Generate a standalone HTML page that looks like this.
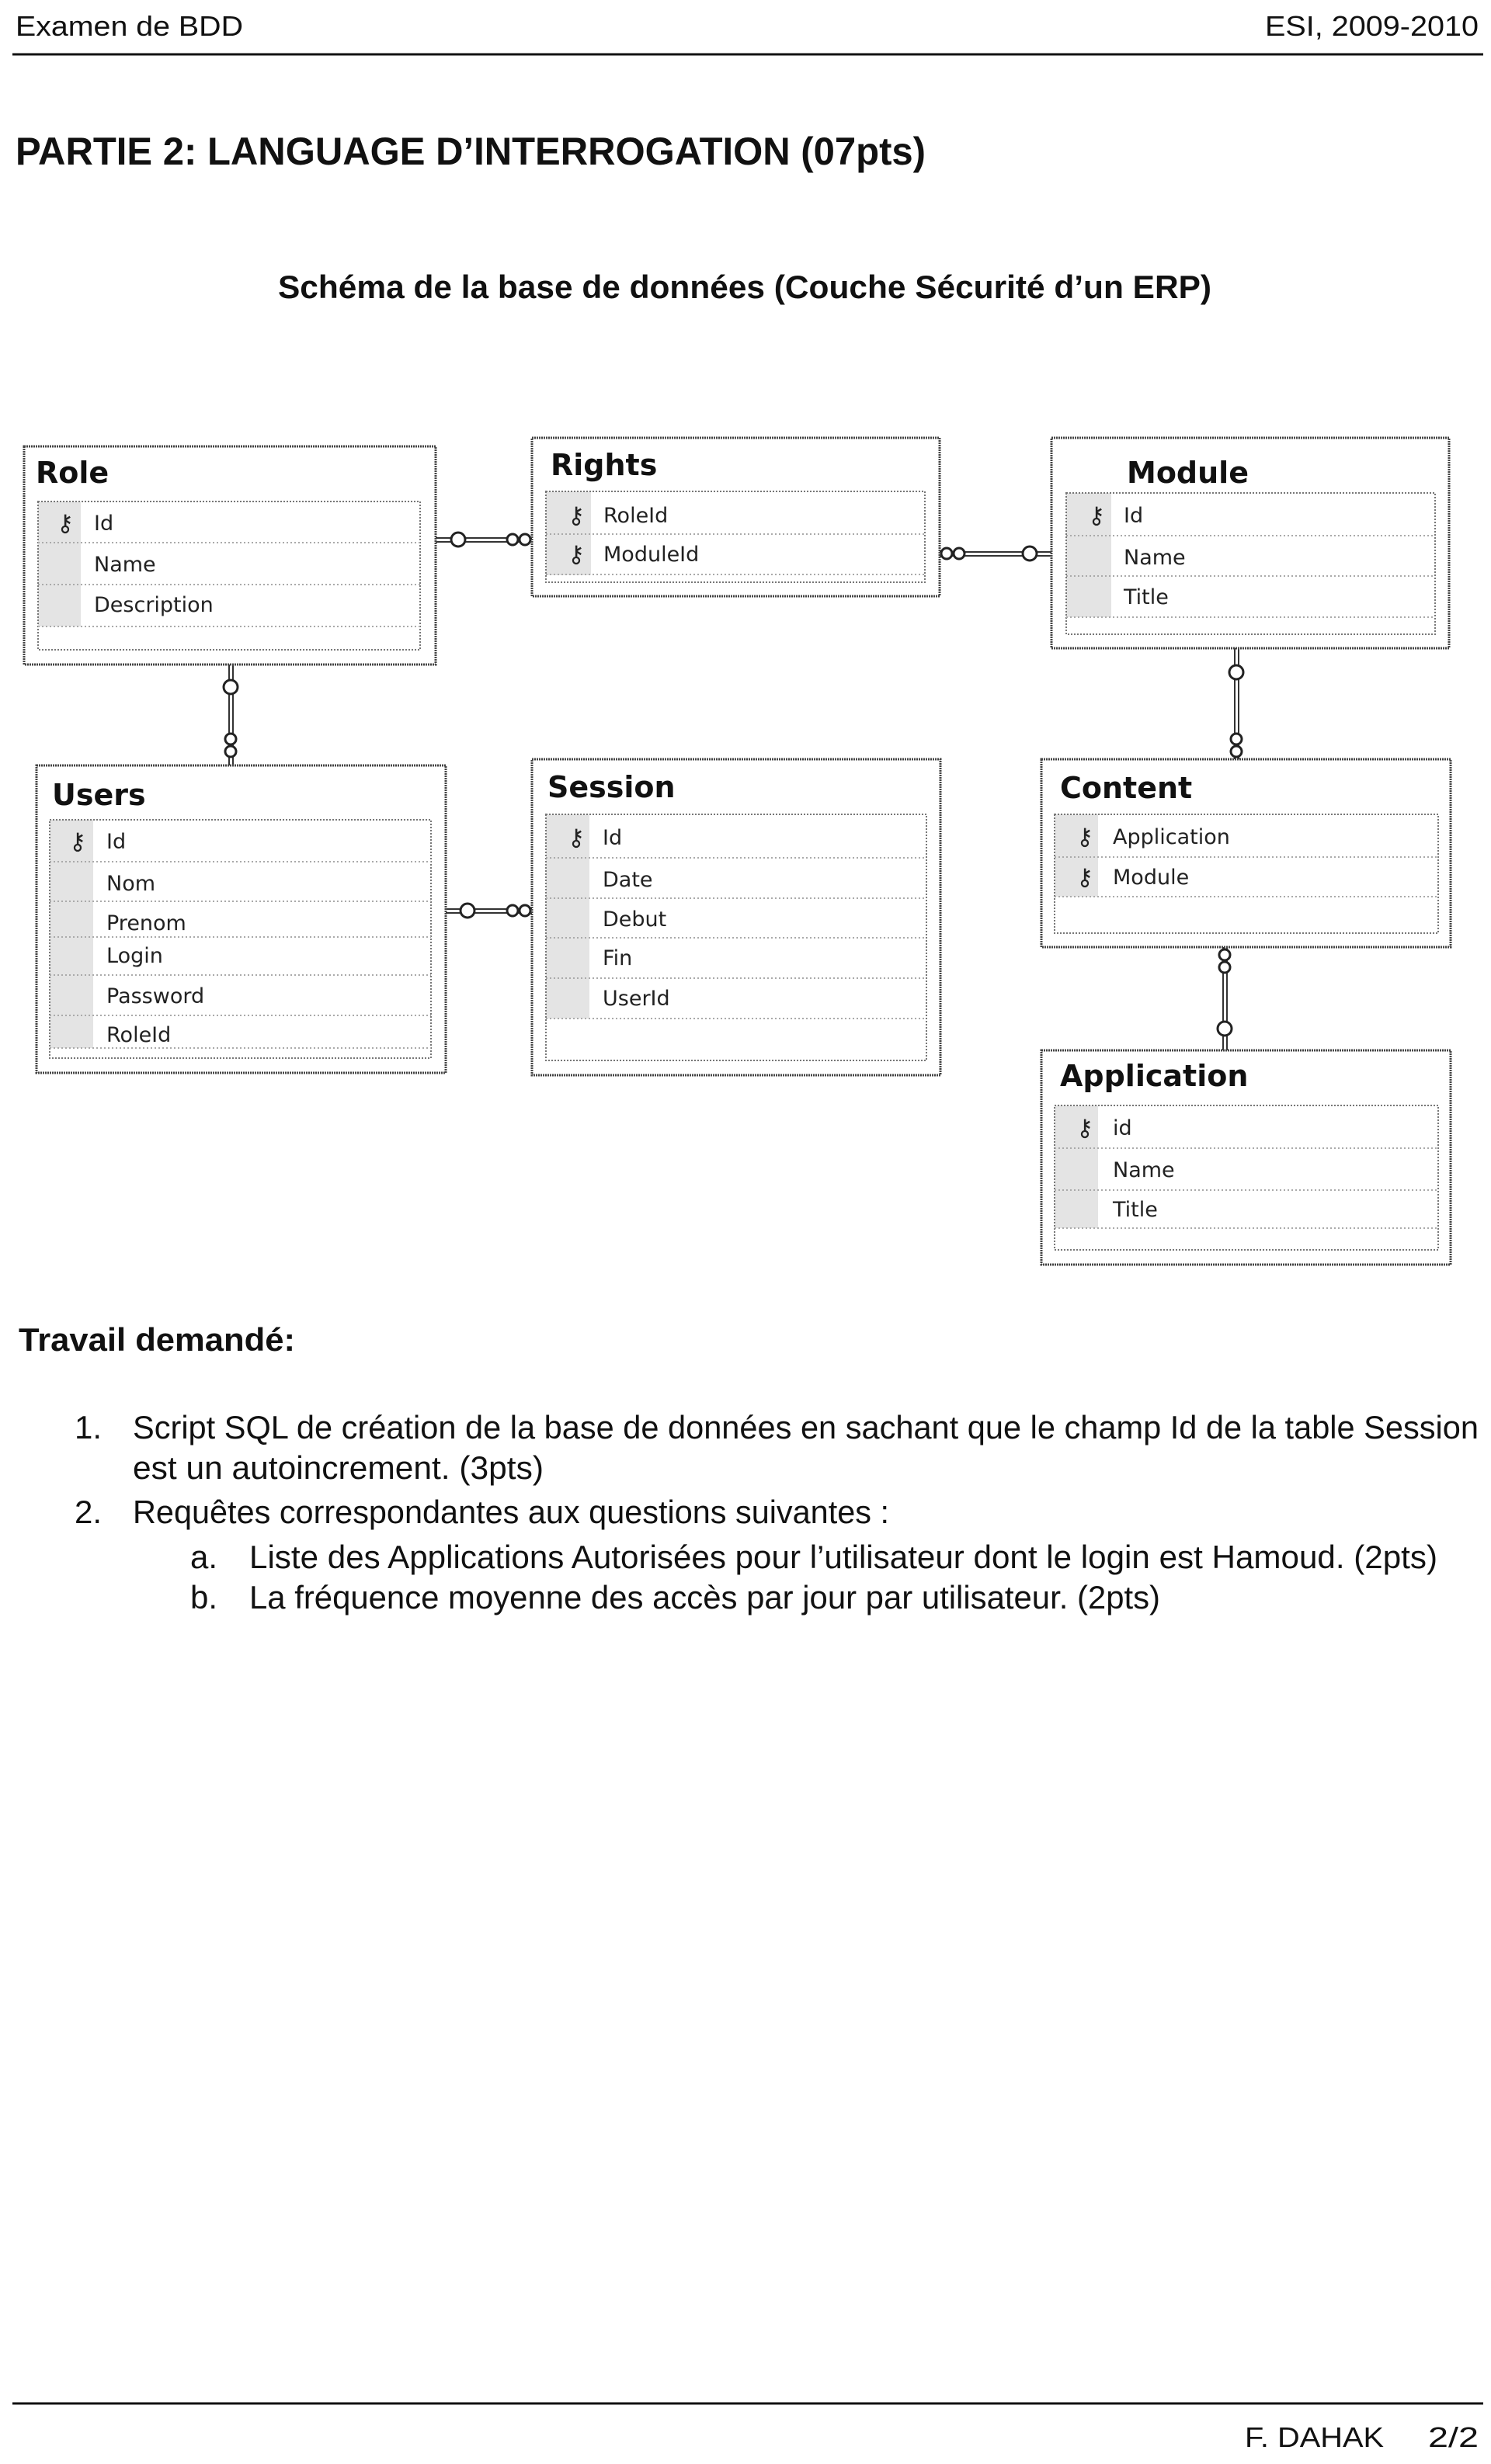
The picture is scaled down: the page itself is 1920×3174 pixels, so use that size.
<!DOCTYPE html>
<html><head><meta charset="utf-8"><style>
html,body{margin:0;padding:0;background:#fff;}
svg{display:block}
.b{font-family:"Liberation Sans",sans-serif;fill:#111}
.t{font-family:"DejaVu Sans",sans-serif;font-weight:bold;font-size:38px;fill:#111}
.r{font-family:"DejaVu Sans",sans-serif;font-size:27px;fill:#222}
.ob{fill:none;stroke:#444;stroke-width:3;stroke-dasharray:2 1}
.ib{fill:none;stroke:#777;stroke-width:2;stroke-dasharray:2 2}
.dv{stroke:#aaa;stroke-width:2;stroke-dasharray:2 3}
.kc{fill:#e4e4e4}
.cl{stroke:#333;stroke-width:2}
.ring{fill:#fff;stroke:#222;stroke-width:3}
</style></head><body>
<svg width="1920" height="3174" viewBox="0 0 1920 3174" xmlns="http://www.w3.org/2000/svg">
<rect width="1920" height="3174" fill="#fff"/>
<text class="b" x="20" y="46" font-size="36" textLength="293" lengthAdjust="spacingAndGlyphs">Examen de BDD</text>
<text class="b" x="1629" y="46" font-size="36" textLength="275" lengthAdjust="spacingAndGlyphs">ESI, 2009-2010</text>
<line x1="16" y1="70" x2="1910" y2="70" stroke="#111" stroke-width="3"/>
<text class="b" x="20" y="212" font-size="50" font-weight="bold" textLength="1172" lengthAdjust="spacingAndGlyphs">PARTIE 2: LANGUAGE D’INTERROGATION (07pts)</text>
<text class="b" x="358" y="384" font-size="42" font-weight="bold" textLength="1202" lengthAdjust="spacingAndGlyphs">Schéma de la base de données (Couche Sécurité d’un ERP)</text>

<g>
 <line class="cl" x1="561" y1="693" x2="685" y2="693"/><line class="cl" x1="561" y1="698" x2="685" y2="698"/>
 <circle class="ring" cx="590" cy="695" r="9"/><circle class="ring" cx="660" cy="695" r="7"/><circle class="ring" cx="676" cy="695" r="7"/>
 <line class="cl" x1="1210" y1="711" x2="1354" y2="711"/><line class="cl" x1="1210" y1="716" x2="1354" y2="716"/>
 <circle class="ring" cx="1219" cy="713" r="7"/><circle class="ring" cx="1235" cy="713" r="7"/><circle class="ring" cx="1326" cy="713" r="9"/>
 <line class="cl" x1="295" y1="856" x2="295" y2="986"/><line class="cl" x1="300" y1="856" x2="300" y2="986"/>
 <circle class="ring" cx="297" cy="885" r="9"/><circle class="ring" cx="297" cy="952" r="7"/><circle class="ring" cx="297" cy="968" r="7"/>
 <line class="cl" x1="574" y1="1171" x2="685" y2="1171"/><line class="cl" x1="574" y1="1176" x2="685" y2="1176"/>
 <circle class="ring" cx="602" cy="1173" r="9"/><circle class="ring" cx="660" cy="1173" r="7"/><circle class="ring" cx="676" cy="1173" r="7"/>
 <line class="cl" x1="1590" y1="835" x2="1590" y2="978"/><line class="cl" x1="1595" y1="835" x2="1595" y2="978"/>
 <circle class="ring" cx="1592" cy="866" r="9"/><circle class="ring" cx="1592" cy="952" r="7"/><circle class="ring" cx="1592" cy="968" r="7"/>
 <line class="cl" x1="1575" y1="1220" x2="1575" y2="1353"/><line class="cl" x1="1580" y1="1220" x2="1580" y2="1353"/>
 <circle class="ring" cx="1577" cy="1230" r="7"/><circle class="ring" cx="1577" cy="1246" r="7"/><circle class="ring" cx="1577" cy="1325" r="9"/>
</g>

<rect class="ob" x="31" y="575" width="530" height="281" fill="#fff"/>
<text class="t" x="46" y="622">Role</text>
<rect class="kc" x="49" y="646" width="55" height="161"/>
<rect class="ib" x="49" y="646" width="492" height="191"/>
<line class="dv" x1="49" y1="699" x2="541" y2="699"/><line class="dv" x1="49" y1="753" x2="541" y2="753"/><line class="dv" x1="49" y1="807" x2="541" y2="807"/>
<text class="r" x="121" y="683">Id</text><text class="r" x="121" y="736">Name</text><text class="r" x="121" y="788">Description</text>

<rect class="ob" x="685" y="564" width="525" height="204" fill="#fff"/>
<text class="t" x="709" y="612">Rights</text>
<rect class="kc" x="703" y="633" width="58" height="108"/>
<rect class="ib" x="703" y="633" width="488" height="117"/>
<line class="dv" x1="703" y1="688" x2="1191" y2="688"/><line class="dv" x1="703" y1="740" x2="1191" y2="740"/>
<text class="r" x="777" y="673">RoleId</text><text class="r" x="777" y="723">ModuleId</text>

<rect class="ob" x="1354" y="564" width="512" height="271" fill="#fff"/>
<text class="t" x="1451" y="622">Module</text>
<rect class="kc" x="1373" y="635" width="58" height="160"/>
<rect class="ib" x="1373" y="635" width="475" height="182"/>
<line class="dv" x1="1373" y1="690" x2="1848" y2="690"/><line class="dv" x1="1373" y1="742" x2="1848" y2="742"/><line class="dv" x1="1373" y1="795" x2="1848" y2="795"/>
<text class="r" x="1447" y="673">Id</text><text class="r" x="1447" y="727">Name</text><text class="r" x="1447" y="778">Title</text>

<rect class="ob" x="47" y="986" width="527" height="396" fill="#fff"/>
<text class="t" x="67" y="1037">Users</text>
<rect class="kc" x="64" y="1056" width="56" height="294"/>
<rect class="ib" x="64" y="1056" width="491" height="307"/>
<line class="dv" x1="64" y1="1110" x2="555" y2="1110"/><line class="dv" x1="64" y1="1161" x2="555" y2="1161"/><line class="dv" x1="64" y1="1207" x2="555" y2="1207"/><line class="dv" x1="64" y1="1256" x2="555" y2="1256"/><line class="dv" x1="64" y1="1308" x2="555" y2="1308"/><line class="dv" x1="64" y1="1350" x2="555" y2="1350"/>
<text class="r" x="137" y="1093">Id</text><text class="r" x="137" y="1147">Nom</text><text class="r" x="137" y="1198">Prenom</text><text class="r" x="137" y="1240">Login</text><text class="r" x="137" y="1292">Password</text><text class="r" x="137" y="1342">RoleId</text>

<rect class="ob" x="685" y="978" width="526" height="407" fill="#fff"/>
<text class="t" x="705" y="1027">Session</text>
<rect class="kc" x="703" y="1049" width="56" height="263"/>
<rect class="ib" x="703" y="1049" width="490" height="317"/>
<line class="dv" x1="703" y1="1105" x2="1193" y2="1105"/><line class="dv" x1="703" y1="1157" x2="1193" y2="1157"/><line class="dv" x1="703" y1="1208" x2="1193" y2="1208"/><line class="dv" x1="703" y1="1260" x2="1193" y2="1260"/><line class="dv" x1="703" y1="1312" x2="1193" y2="1312"/>
<text class="r" x="776" y="1088">Id</text><text class="r" x="776" y="1142">Date</text><text class="r" x="776" y="1193">Debut</text><text class="r" x="776" y="1243">Fin</text><text class="r" x="776" y="1295">UserId</text>

<rect class="ob" x="1341" y="978" width="527" height="242" fill="#fff"/>
<text class="t" x="1365" y="1028">Content</text>
<rect class="kc" x="1358" y="1049" width="56" height="106"/>
<rect class="ib" x="1358" y="1049" width="494" height="153"/>
<line class="dv" x1="1358" y1="1104" x2="1852" y2="1104"/><line class="dv" x1="1358" y1="1155" x2="1852" y2="1155"/>
<text class="r" x="1433" y="1087">Application</text><text class="r" x="1433" y="1139">Module</text>

<rect class="ob" x="1341" y="1353" width="527" height="276" fill="#fff"/>
<text class="t" x="1365" y="1399">Application</text>
<rect class="kc" x="1358" y="1424" width="56" height="158"/>
<rect class="ib" x="1358" y="1424" width="494" height="186"/>
<line class="dv" x1="1358" y1="1479" x2="1852" y2="1479"/><line class="dv" x1="1358" y1="1533" x2="1852" y2="1533"/><line class="dv" x1="1358" y1="1582" x2="1852" y2="1582"/>
<text class="r" x="1433" y="1462">id</text><text class="r" x="1433" y="1516">Name</text><text class="r" x="1433" y="1567">Title</text>

<g font-family="DejaVu Sans" font-size="30" font-weight="bold" fill="#222">
<text x="73" y="684">⚷</text>
<text x="731" y="674">⚷</text><text x="731" y="724">⚷</text>
<text x="1401" y="674">⚷</text>
<text x="89" y="1094">⚷</text>
<text x="731" y="1089">⚷</text>
<text x="1386" y="1088">⚷</text><text x="1386" y="1140">⚷</text>
<text x="1386" y="1463">⚷</text>
</g>

<text class="b" x="24" y="1740" font-size="42" font-weight="bold" textLength="356" lengthAdjust="spacingAndGlyphs">Travail demandé:</text>
<text class="b" x="96" y="1853" font-size="42">1.</text>
<text class="b" x="171" y="1853" font-size="42" textLength="1733" lengthAdjust="spacingAndGlyphs">Script SQL de création de la base de données en sachant que le champ Id de la table Session</text>
<text class="b" x="171" y="1905" font-size="42" textLength="529" lengthAdjust="spacingAndGlyphs">est un autoincrement. (3pts)</text>
<text class="b" x="96" y="1962" font-size="42">2.</text>
<text class="b" x="171" y="1962" font-size="42" textLength="974" lengthAdjust="spacingAndGlyphs">Requêtes correspondantes aux questions suivantes :</text>
<text class="b" x="245" y="2020" font-size="42">a.</text>
<text class="b" x="321" y="2020" font-size="42" textLength="1530" lengthAdjust="spacingAndGlyphs">Liste des Applications Autorisées pour l’utilisateur dont le login est Hamoud. (2pts)</text>
<text class="b" x="245" y="2072" font-size="42">b.</text>
<text class="b" x="321" y="2072" font-size="42" textLength="1173" lengthAdjust="spacingAndGlyphs">La fréquence moyenne des accès par jour par utilisateur. (2pts)</text>

<line x1="16" y1="3096" x2="1910" y2="3096" stroke="#111" stroke-width="3"/>
<text class="b" x="1603" y="3152" font-size="36" textLength="179" lengthAdjust="spacingAndGlyphs">F. DAHAK</text>
<text class="b" x="1839" y="3152" font-size="36" textLength="65" lengthAdjust="spacingAndGlyphs">2/2</text>
</svg>
</body></html>
